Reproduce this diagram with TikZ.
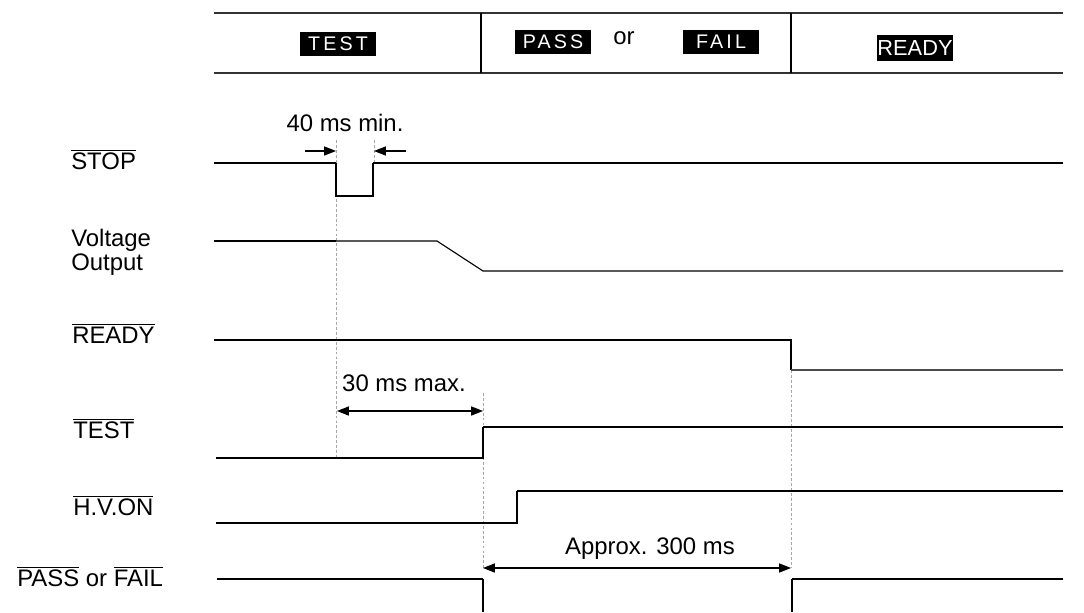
\documentclass[tikz,border=0pt]{standalone}
\usepackage{fontspec}
\setmainfont{Liberation Sans}
\newfontfamily\spacedfont[LetterSpace=16]{Liberation Sans}
\usetikzlibrary{arrows.meta}
\newcommand{\ovl}[1]{$\overline{\mbox{#1}}$}

\begin{document}
\begin{tikzpicture}[
			x = 0.025cm, y = -0.025cm, % one unit = one pixel
			> = {Triangle[length=8.5pt, width=6.5pt]}, % arrow head style
			font = \fontsize{17}{17}\selectfont
			]
			
			\tikzstyle{sig}=[line width=1.5pt]
			\tikzstyle{thin sig}=[line width=0.8pt]
			\tikzstyle{guide}=[black!35, line width=0.4pt, dash pattern=on 2pt off 1.5pt]
			\tikzstyle{label}=[anchor=base west, inner sep=0pt]
			\tikzstyle{mode}=[fill=black, text=white, inner sep=0pt,
			minimum width=1.9cm, minimum height=0.6cm,
			font=\fontsize{14}{14}\selectfont\spacedfont]
			
			\useasboundingbox (0,0) rectangle (1084,612);
			
			% header
			\draw[line width=1pt, black!80] (214,13) -- (1063,13);
			\draw[line width=1pt, black!80] (214,73) -- (1063,73);
			\draw[thin sig] (481,13) -- (481,73);
			\draw[thin sig] (791,13) -- (791,73);
			\node[mode] (hdtest) at (338,44) {TEST};
			\node[mode] (hdpass) at (553,42) {PASS};
			\node (hdor) at (624,38) {or};
			\node[mode] (hdfail) at (721,42) {FAIL};
			\node[mode, minimum height=0.65cm, font=\fontsize{15.5}{15.5}\selectfont] (hdready) at (915,48) {READY};
			
			% signal names
			\node[label] (stop) at (71,169) {\ovl{STOP}};
			\node[label, align=left] (volt) at (71,270) {Voltage\\Output};
			\node[label] (ready) at (72,343) {\ovl{READY}};
			\node[label] (test) at (73,438) {\ovl{TEST}};
			\node[label] (hvon) at (73,515) {\ovl{H.V.ON}};
			\node[label] (passfail) at (17,586) {\ovl{PASS} or \ovl{FAIL}};
			
			% guides
			\draw[guide] (336,140) -- (336,458);
			\draw[guide] (374,140) -- (374,163);
			\draw[guide] (483,393) -- (483,568);
			\draw[guide] (791,370) -- (791,568);
			
			% STOP
			\draw[sig] (214,163) -- (336,163);
			\draw[thin sig] (336,163) -- (336,196) -- (373,196) -- (373,163);
			\draw[sig] (373,163) -- (1063,163);
			% voltage output
			\draw[sig] (214,241) -- (336,241);
			\draw[thin sig] (336,241) -- (437,241) -- (483,271) -- (1063,271);
			% READY
			\draw[sig] (214,340) -- (791,340) -- (791,370);
			\draw[sig, black!70] (791,370) -- (1063,370);
			% TEST
			\draw[thin sig] (216,458) -- (483,458) -- (483,427);
			\draw[sig] (483,427) -- (1063,427);
			% H.V.ON
			\draw[thin sig] (216,523) -- (517,523) -- (517,491);
			\draw[sig] (517,491) -- (1063,491);
			% PASS or FAIL
			\draw[sig] (217,579) -- (483,579);
			\draw[thin sig] (483,579) -- (483,612);
			\draw[thin sig] (792,612) -- (792,579);
			\draw[sig] (792,579) -- (1063,579);
			
			% timings
			\coordinate (stopin) at (305,151);
			\coordinate (stopout) at (406,151);
			\draw[->, thin sig] (stopin) -- (336,151);
			\draw[->, thin sig] (stopout) -- (374,151);
			\node[anchor=base] (tmin) at (345,131) {40 ms min.};
			
			\draw[<->, thin sig] (337,411) -- (483,411);
			\node[anchor=base] (tmax) at (404,391) {30 ms max.};
			
			\draw[<->, thin sig] (483,568) -- (791,568);
			\node[anchor=base] (tapprox) at (650,554) {Approx. 300 ms};
		\end{tikzpicture}
\end{document}
